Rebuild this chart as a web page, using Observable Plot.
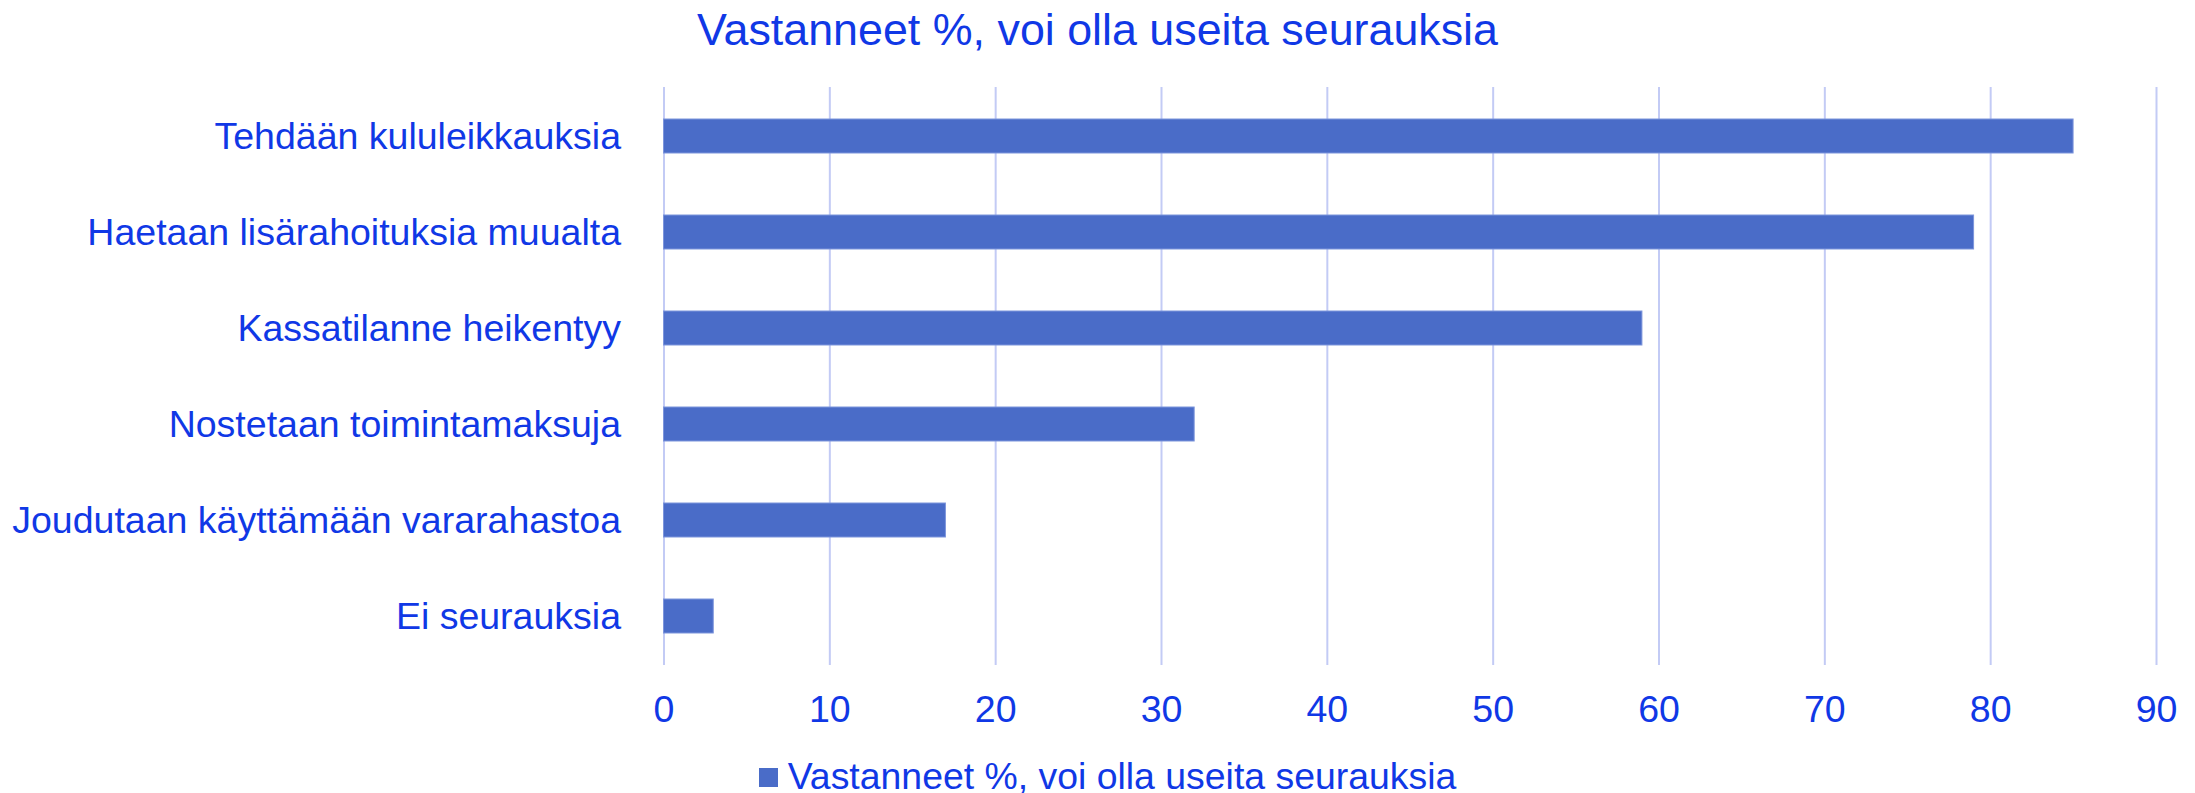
<!DOCTYPE html>
<html>
<head>
<meta charset="utf-8">
<script src="https://cdn.jsdelivr.net/npm/d3@7"></script>
<script src="https://cdn.jsdelivr.net/npm/@observablehq/plot@0.6"></script>
<style>
  html, body { margin: 0; padding: 0; background: #ffffff; }
  body { width: 2195px; height: 793px; overflow: hidden; font-family: "Liberation Sans", Arial, sans-serif; color: #1038e6; }
  #title { height: 58px; line-height: 58px; font-size: 44.8px; text-align: center; white-space: nowrap; }
  #legend { height: 56px; line-height: 56px; font-size: 37.4px; text-align: center; white-space: nowrap; padding-left: 20px; }
  #legend .sw { display: inline-block; width: 19px; height: 19px; background: #4a6cc8; margin-right: 10px; vertical-align: middle; position: relative; top: -2px; }
  svg { display: block; }
</style>
</head>
<body>
<div id="title"></div>
<div id="chart"></div>
<div id="legend"></div>
<script>
const titleText = "Vastanneet %, voi olla useita seurauksia";
const seriesName = "Vastanneet %, voi olla useita seurauksia";
const categories = [
  "Tehdään kululeikkauksia",
  "Haetaan lisärahoituksia muualta",
  "Kassatilanne heikentyy",
  "Nostetaan toimintamaksuja",
  "Joudutaan käyttämään vararahastoa",
  "Ei seurauksia"
];
const values = [85, 79, 59, 32, 17, 3];
const xTicks = [0, 10, 20, 30, 40, 50, 60, 70, 80, 90];

const data = categories.map((c, i) => ({category: c, value: values[i]}));

document.getElementById("title").textContent = titleText;
const lg = document.getElementById("legend");
const sw = document.createElement("span"); sw.className = "sw";
lg.appendChild(sw);
lg.appendChild(document.createTextNode(seriesName));

const textColor = "#1038e6";
const chart = Plot.plot({
  width: 2195,
  height: 690,
  marginTop: 29,
  marginBottom: 83,
  marginLeft: 663.5,
  marginRight: 39,
  style: {fontFamily: '"Liberation Sans", Arial, sans-serif', fontSize: "37.5px", color: textColor, background: "#ffffff"},
  x: {domain: [0, 90], label: null},
  y: {domain: categories, paddingInner: 0.647, paddingOuter: 0.3235, label: null},
  marks: [
    Plot.ruleX(xTicks, {stroke: "#c3cbf5", strokeWidth: 2}),
    Plot.barX(data, {x: "value", y: "category", fill: "#4a6cc8", stroke: "#7d95dc", strokeWidth: 1}),
    Plot.axisX({ticks: xTicks, tickSize: 0, tickPadding: 30, label: null, fontSize: 37.5, fill: textColor}),
    Plot.axisY({tickSize: 0, tickPadding: 43, label: null, fontSize: 37.5, fill: textColor})
  ]
});
document.getElementById("chart").appendChild(chart);
</script>
</body>
</html>
